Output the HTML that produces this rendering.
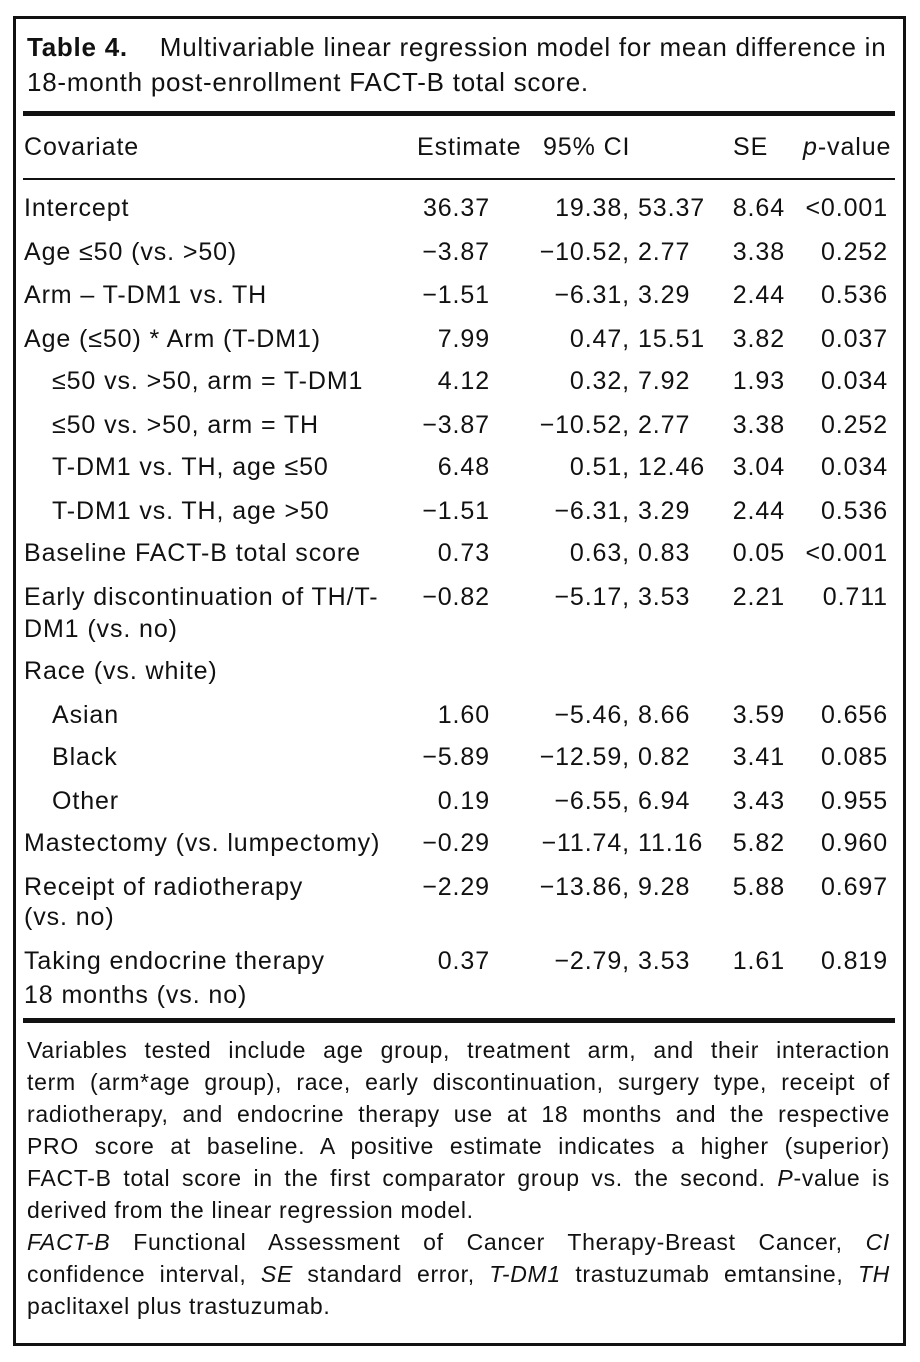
<!DOCTYPE html>
<html><head><meta charset="utf-8"><style>
body{margin:0;width:920px;height:1362px;background:#fff;position:relative;font-family:"Liberation Sans",sans-serif;color:#111;overflow:hidden}
.box{position:absolute;left:13px;top:16px;width:887px;height:1324px;border:3px solid #111}
.t{position:absolute;font-size:25px;letter-spacing:0.9px;line-height:30px;white-space:nowrap}
.r{position:absolute;font-size:25px;letter-spacing:0.9px;line-height:30px;white-space:nowrap;text-align:right}
.rule{position:absolute;left:23px;width:872px;background:#111}
.fn{position:absolute;left:27px;width:863px;font-size:23px;letter-spacing:0.7px;line-height:32px;text-align:justify;text-align-last:justify;white-space:nowrap}
.fn.l{text-align-last:left}
</style></head><body>
<div class="box"></div>
<div class="t" style="left:27px;top:32px;font-size:26px;letter-spacing:0.75px"><b>Table 4.</b>&nbsp;&nbsp;&nbsp; Multivariable linear regression model for mean difference in</div>
<div class="t" style="left:27px;top:67px;font-size:26px;letter-spacing:0.75px">18-month post-enrollment FACT-B total score.</div>
<div class="rule" style="top:111px;height:5px"></div>
<div class="t" style="left:24px;top:132px">Covariate</div>
<div class="t" style="left:417px;top:132px">Estimate</div>
<div class="t" style="left:543px;top:132px">95% CI</div>
<div class="t" style="left:733px;top:132px">SE</div>
<div class="t" style="left:803px;top:132px"><i>p</i>-value</div>
<div class="rule" style="top:178px;height:2px"></div>
<div id="rows"></div>
<div class="rule" style="top:1018px;height:5px"></div>
<div class="fn" style="top:1034px">Variables tested include age group, treatment arm, and their interaction</div>
<div class="fn" style="top:1066px">term (arm*age group), race, early discontinuation, surgery type, receipt of</div>
<div class="fn" style="top:1098px">radiotherapy, and endocrine therapy use at 18 months and the respective</div>
<div class="fn" style="top:1130px">PRO score at baseline. A positive estimate indicates a higher (superior)</div>
<div class="fn" style="top:1162px">FACT-B total score in the first comparator group vs. the second. <i>P</i>-value is</div>
<div class="fn l" style="top:1194px">derived from the linear regression model.</div>
<div class="fn" style="top:1226px"><i>FACT-B</i> Functional Assessment of Cancer Therapy-Breast Cancer, <i>CI</i></div>
<div class="fn" style="top:1258px">confidence interval, <i>SE</i> standard error, <i>T-DM1</i> trastuzumab emtansine, <i>TH</i></div>
<div class="fn l" style="top:1290px">paclitaxel plus trastuzumab.</div>
<script>
var R=[
[208,24,"Intercept","36.37","19.38","53.37","8.64","<0.001"],
[252,24,"Age ≤50 (vs. >50)","−3.87","−10.52","2.77","3.38","0.252"],
[295,24,"Arm – T-DM1 vs. TH","−1.51","−6.31","3.29","2.44","0.536"],
[339,24,"Age (≤50) * Arm (T-DM1)","7.99","0.47","15.51","3.82","0.037"],
[381,52,"≤50 vs. >50, arm = T-DM1","4.12","0.32","7.92","1.93","0.034"],
[425,52,"≤50 vs. >50, arm = TH","−3.87","−10.52","2.77","3.38","0.252"],
[467,52,"T-DM1 vs. TH, age ≤50","6.48","0.51","12.46","3.04","0.034"],
[511,52,"T-DM1 vs. TH, age >50","−1.51","−6.31","3.29","2.44","0.536"],
[553,24,"Baseline FACT-B total score","0.73","0.63","0.83","0.05","<0.001"],
[597,24,"Early discontinuation of TH/T-","−0.82","−5.17","3.53","2.21","0.711"],
[629,24,"DM1 (vs. no)"],
[671,24,"Race (vs. white)"],
[715,52,"Asian","1.60","−5.46","8.66","3.59","0.656"],
[757,52,"Black","−5.89","−12.59","0.82","3.41","0.085"],
[801,52,"Other","0.19","−6.55","6.94","3.43","0.955"],
[843,24,"Mastectomy (vs. lumpectomy)","−0.29","−11.74","11.16","5.82","0.960"],
[887,24,"Receipt of radiotherapy","−2.29","−13.86","9.28","5.88","0.697"],
[917,24,"(vs. no)"],
[961,24,"Taking endocrine therapy","0.37","−2.79","3.53","1.61","0.819"],
[995,24,"18 months (vs. no)"]];
var h="";
function e(s){return s.replace(/</g,"&lt;").replace(/>/g,"&gt;");}
R.forEach(function(r){var t=r[0]-15;
h+='<div class="t" style="left:'+r[1]+'px;top:'+t+'px">'+e(r[2])+'</div>';
if(r.length>3){
h+='<div class="r" style="right:'+(920-490)+'px;top:'+t+'px">'+r[3]+'</div>';
h+='<div class="r" style="right:'+(920-630)+'px;top:'+t+'px">'+r[4]+',</div>';
h+='<div class="t" style="left:638px;top:'+t+'px">'+r[5]+'</div>';
h+='<div class="r" style="right:'+(920-785)+'px;top:'+t+'px">'+r[6]+'</div>';
h+='<div class="r" style="right:'+(920-888)+'px;top:'+t+'px">'+e(r[7])+'</div>';}
});
document.getElementById("rows").innerHTML=h;
</script>
</body></html>
